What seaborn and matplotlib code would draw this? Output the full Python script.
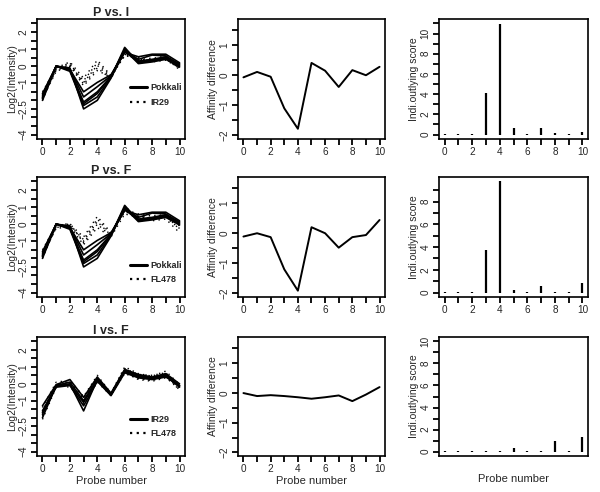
import pandas as pd
import numpy as np
import matplotlib
matplotlib.use("Agg")
import matplotlib.pyplot as plt
import seaborn as sns

sns.set_theme(style="ticks")
plt.rcParams['font.family'] = ['Liberation Sans', 'DejaVu Sans']

probes = list(range(11))

# --- probe level log2 intensities (left column) ---
pokkali = [
    [-1.6, 0.0, -0.2, -1.5, -0.95, -0.5, 0.8, 0.55, 0.7, 0.7, 0.2],
    [-1.8, 0.0, -0.15, -1.8, -1.2, -0.55, 0.9, 0.4, 0.65, 0.6, 0.1],
    [-1.9, 0.02, -0.25, -2.1, -1.5, -0.6, 1.0, 0.3, 0.4, 0.55, 0.05],
    [-2.0, 0.0, -0.3, -2.3, -1.8, -0.65, 1.1, 0.2, 0.3, 0.45, 0.0],
    [-1.7, 0.0, -0.1, -2.5, -2.0, -0.7, 0.95, 0.15, 0.25, 0.4, -0.05],
    [-1.85, 0.0, -0.2, -2.2, -1.6, -0.6, 0.85, 0.25, 0.35, 0.5, 0.15],
]
ir29_pi = [
    [-1.5, -0.1, 0.25, -0.7, 0.35, -0.55, 0.6, 0.5, 0.45, 0.6, -0.1],
    [-1.7, -0.2, 0.1, -0.85, 0.2, -0.6, 0.7, 0.4, 0.35, 0.5, -0.15],
    [-1.9, -0.3, 0.0, -0.95, 0.05, -0.7, 0.8, 0.3, 0.3, 0.45, -0.2],
    [-2.0, -0.15, 0.2, -1.05, -0.1, -0.75, 0.9, 0.35, 0.4, 0.55, 0.0],
    [-1.8, -0.25, 0.05, -1.15, -0.25, -0.65, 0.65, 0.45, 0.25, 0.35, -0.1],
]
fl478_pf = [
    [-1.5, -0.05, 0.0, -0.75, 0.45, -0.5, 0.7, 0.6, 0.5, 0.55, -0.1],
    [-1.7, -0.15, -0.1, -0.9, 0.3, -0.6, 0.8, 0.45, 0.4, 0.4, -0.25],
    [-1.9, -0.2, -0.05, -1.0, 0.15, -0.65, 0.9, 0.3, 0.2, 0.3, -0.5],
    [-2.0, -0.1, 0.05, -1.1, 0.0, -0.7, 1.0, 0.5, 0.3, 0.5, -0.3],
    [-1.8, -0.25, -0.15, -1.2, -0.2, -0.75, 0.6, 0.4, 0.35, 0.6, 0.0],
]
ir29_if = [
    [-1.3, -0.05, 0.25, -0.8, 0.4, -0.55, 0.85, 0.55, 0.4, 0.6, 0.0],
    [-1.6, -0.1, 0.1, -1.0, 0.3, -0.6, 0.8, 0.5, 0.35, 0.55, -0.1],
    [-1.8, -0.15, -0.05, -1.1, 0.2, -0.65, 0.75, 0.45, 0.3, 0.5, -0.15],
    [-2.0, -0.1, 0.0, -1.6, 0.25, -0.6, 0.7, 0.4, 0.3, 0.45, -0.2],
    [-1.7, -0.2, -0.1, -1.3, 0.15, -0.7, 0.65, 0.35, 0.25, 0.4, -0.1],
]
fl478_if = [
    [-1.4, 0.1, 0.2, -0.75, 0.5, -0.55, 1.0, 0.6, 0.45, 0.75, -0.05],
    [-1.6, -0.05, 0.1, -0.85, 0.35, -0.6, 0.9, 0.55, 0.5, 0.65, -0.2],
    [-1.9, -0.1, -0.2, -1.0, 0.2, -0.65, 0.6, 0.3, 0.2, 0.4, -0.35],
    [-2.1, -0.2, 0.0, -1.2, 0.1, -0.7, 0.75, 0.4, 0.35, 0.55, -0.4],
    [-1.7, 0.0, -0.1, -0.9, 0.3, -0.6, 0.7, 0.25, 0.15, 0.35, -0.25],
]

# --- affinity differences (middle column) ---
aff_pi = [-0.07, 0.11, -0.05, -1.1, -1.78, 0.41, 0.15, -0.39, 0.17, 0.0, 0.28]
aff_pf = [-0.11, 0.0, -0.13, -1.2, -1.91, 0.2, 0.0, -0.48, -0.13, -0.06, 0.44]
aff_if = [-0.01, -0.11, -0.08, -0.11, -0.15, -0.2, -0.15, -0.09, -0.28, -0.06, 0.19]

# --- outlying scores (right column) ---
out_pi = [0.05, 0.05, 0.05, 4.15, 10.9, 0.6, 0.1, 0.6, 0.2, 0.05, 0.3]
out_pf = [0.05, 0.05, 0.05, 3.73, 9.77, 0.23, 0.05, 0.58, 0.05, 0.05, 0.82]
out_if = [0.05, 0.05, 0.05, 0.05, 0.05, 0.36, 0.05, 0.05, 1.0, 0.05, 1.3]

rows = [
    ("P vs. I", "Pokkali", pokkali, "IR29", ir29_pi, aff_pi, out_pi, 11, 0.23),
    ("P vs. F", "Pokkali", pokkali, "FL478", fl478_pf, aff_pf, out_pf, 9.77, 0.07),
    ("I vs. F", "IR29", ir29_if, "FL478", fl478_if, aff_if, out_if, 10, 0.11),
]


def long_df(mat, name):
    recs = []
    for k, vals in enumerate(mat):
        for p, v in zip(probes, vals):
            recs.append({"probe": p, "value": v, "line": k, "group": name})
    return pd.DataFrame(recs)


W, H = 600, 492
fig = plt.figure(figsize=(W / 100, H / 100), dpi=100)

col_x = [(37, 185), (238, 385), (439, 588)]
row_y = [(19, 139), (177, 297), (337, 456)]


def make_ax(c, r):
    x0, x1 = col_x[c]
    y0, y1 = row_y[r]
    return fig.add_axes([x0 / W, 1 - y1 / H, (x1 - x0) / W, (y1 - y0) / H])


def style_ax(ax):
    for s in ax.spines.values():
        s.set_linewidth(1.2)
        s.set_color("black")
    ax.tick_params(length=4, width=1.3, labelsize=7.2, pad=2, color="black")
    for lab in ax.get_yticklabels():
        lab.set_rotation(90)
        lab.set_va("center")


xt = list(range(11))
xl = [str(v) if v % 2 == 0 else "" for v in xt]

for r, (title, n1, m1, n2, m2, aff, out, omax, leg_y) in enumerate(rows):
    # left: probe intensities
    ax = make_ax(0, r)
    d1 = long_df(m1, n1)
    d2 = long_df(m2, n2)
    sns.lineplot(data=d1, x="probe", y="value", units="line", estimator=None,
                 color="black", linewidth=1.2, ax=ax, legend=False)
    sns.lineplot(data=d2, x="probe", y="value", units="line", estimator=None,
                 color="black", linewidth=1.0, linestyle=(0, (1, 3)),
                 ax=ax, legend=False)
    ax.set_xlim(-0.4, 10.4)
    ax.set_ylim(-4.26, 2.76)
    ax.set_yticks(np.arange(-4, 2.51, 0.5))
    ylabs = {2.0: "2", 1.0: "1", 0.0: "0", -1.0: "\u22121", -2.5: "\u22122.5", -4.0: "\u22124"}
    ax.set_yticklabels([ylabs.get(round(v, 1), "") for v in np.arange(-4, 2.51, 0.5)])
    ax.set_xticks(xt)
    ax.set_xticklabels(xl)
    ax.set_ylabel("Log2(Intensity)", fontsize=7.5, labelpad=1)
    ax.set_xlabel("Probe number" if r == 2 else "", fontsize=8, labelpad=1)
    ax.set_title(title, fontsize=9, fontweight="bold", pad=2)
    h1, = ax.plot([], [], color="black", linewidth=2.2)
    h2, = ax.plot([], [], color="black", linewidth=1.6, linestyle=(0, (1, 2)))
    leg = ax.legend([h1, h2], [n1, n2], loc="lower left", bbox_to_anchor=(0.6, leg_y),
                    frameon=False, fontsize=6.5, handlelength=1.8, handletextpad=0.4,
                    borderpad=0, labelspacing=0.6)
    for t in leg.get_texts():
        t.set_fontweight("bold")
    style_ax(ax)

    # middle: affinity difference
    ax = make_ax(1, r)
    sns.lineplot(x=probes, y=aff, color="black", linewidth=1.4, ax=ax)
    ax.set_xlim(-0.4, 10.4)
    ax.set_ylim(-2.12, 1.87)
    yt = np.arange(-2, 1.51, 0.5)
    ax.set_yticks(yt)
    ax.set_yticklabels([("\u2212" if v < 0 else "") + str(int(abs(v))) if v == int(v) else "" for v in yt])
    ax.set_xticks(xt)
    ax.set_xticklabels(xl)
    ax.set_ylabel("Affinity difference", fontsize=7.5, labelpad=1)
    ax.set_xlabel("Probe number" if r == 2 else "", fontsize=8, labelpad=1)
    style_ax(ax)

    # right: outlying score
    ax = make_ax(2, r)
    ax.vlines(probes, 0, out, color="black", linewidth=1.6)
    ax.set_xlim(-0.4, 10.4)
    ax.set_ylim(-0.04 * omax, omax * 1.04)
    yt = np.arange(0, int(omax) + 1, 1)
    ax.set_yticks(yt)
    ax.set_yticklabels([str(v) if v % 2 == 0 else "" for v in yt])
    if r < 2:
        ax.set_xticks(xt)
        ax.set_xticklabels(xl)
        ax.set_xlabel("")
    else:
        ax.set_xticks([])
        ax.set_xlabel("Probe number", fontsize=8, labelpad=13)
    ax.set_ylabel("Indi.outlying score", fontsize=7.5, labelpad=1)
    style_ax(ax)

fig.savefig("out.png", dpi=100)
